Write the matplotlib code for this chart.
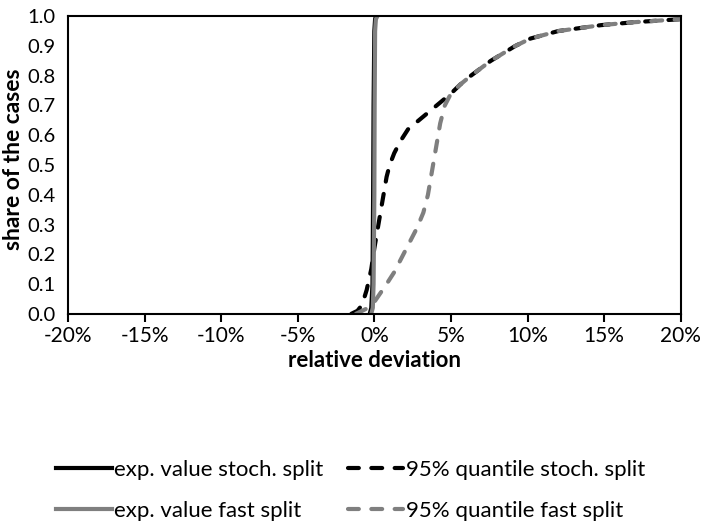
import matplotlib
matplotlib.use("Agg")
import matplotlib.pyplot as plt
from matplotlib.ticker import FuncFormatter, MultipleLocator

plt.rcParams['font.family'] = ['Lato', 'DejaVu Sans']

# share of cases (y) and relative deviation (x, in %)
ev_stoch_x = [-0.3, -0.2, -0.12, -0.08, -0.05, 0.0, 0.05, 0.1]
ev_stoch_y = [0.0, 0.02, 0.1, 0.4, 0.7, 0.95, 0.99, 1.0]

ev_fast_x = [-0.2, -0.1, -0.05, 0.0, 0.02, 0.05, 0.1, 0.2]
ev_fast_y = [0.0, 0.02, 0.1, 0.4, 0.7, 0.95, 0.99, 1.0]

q_stoch_x = [-1.5, -1.1, -0.8, -0.5, -0.2, 0.0, 0.2, 0.4, 0.6, 0.8, 1.0, 1.3, 1.7, 2.2, 2.9,
             3.6, 4.3, 5.0, 5.6, 6.3, 7.6, 9.2, 10.2, 12.0, 14.8, 17.0, 20.0]
q_stoch_y = [0.0, 0.01, 0.03, 0.08, 0.15, 0.22, 0.28, 0.34, 0.40, 0.46, 0.50, 0.54, 0.58, 0.62, 0.65,
             0.68, 0.71, 0.74, 0.77, 0.80, 0.85, 0.90, 0.925, 0.95, 0.97, 0.98, 0.99]

q_fast_x = [-1.2, -0.8, -0.4, 0.0, 0.4, 0.8, 1.3, 1.8, 2.3, 2.8, 3.2, 3.5, 3.7, 3.9, 4.1,
            4.3, 4.6, 5.0, 5.6, 6.3, 7.6, 9.2, 10.2, 12.0, 14.8, 17.0, 20.0]
q_fast_y = [0.0, 0.01, 0.02, 0.04, 0.07, 0.10, 0.14, 0.19, 0.24, 0.29, 0.34, 0.40, 0.46, 0.52, 0.58,
            0.64, 0.70, 0.74, 0.77, 0.80, 0.85, 0.90, 0.925, 0.95, 0.97, 0.98, 0.99]

labels = ["exp. value stoch. split", "exp. value fast split",
          "95% quantile stoch. split", "95% quantile fast split"]

fig = plt.figure(figsize=(7.01, 5.23), dpi=100)
ax = fig.add_axes([0.097, 0.40, 0.874, 0.569])

black = "#000000"
gray = "#7f7f7f"
dash = (0, (2.6, 3.0))
l1, = ax.plot(ev_stoch_x, ev_stoch_y, color=black, lw=3, label=labels[0])
l3, = ax.plot(q_stoch_x, q_stoch_y, color=black, lw=3, ls=dash, dash_capstyle='round',
              label=labels[2])
l4, = ax.plot(q_fast_x, q_fast_y, color=gray, lw=3, ls=dash, dash_capstyle='round',
              label=labels[3])
l2, = ax.plot(ev_fast_x, ev_fast_y, color=gray, lw=3, label=labels[1])

ax.set_xlim(-20, 20)
ax.set_ylim(0, 1.0)
ax.xaxis.set_major_locator(MultipleLocator(5))
ax.yaxis.set_major_locator(MultipleLocator(0.1))
ax.xaxis.set_major_formatter(FuncFormatter(lambda v, p: f"{v:.0f}%"))
ax.yaxis.set_major_formatter(FuncFormatter(lambda v, p: f"{v:.1f}"))
ax.tick_params(axis='x', direction='out', length=6, width=1.5, labelsize=15, pad=3)
ax.tick_params(axis='y', length=0, labelsize=14.5, pad=9)
for s in ax.spines.values():
    s.set_linewidth(1.5)

ax.set_xlabel("relative deviation", fontsize=16, fontweight='bold', labelpad=3)
ax.set_ylabel("share of the cases", fontsize=16.5, fontweight='bold')
ax.yaxis.set_label_coords(-0.071, 0.52)

leg = fig.legend(handles=[l1, l2, l3, l4], labels=labels, loc='center',
                 bbox_to_anchor=(0.5, 0.062), ncol=2, frameon=False, fontsize=16,
                 handlelength=2.5, handletextpad=0.1, columnspacing=1.1,
                 labelspacing=0.95, borderpad=0.0)

fig.savefig("out.png", dpi=100)
